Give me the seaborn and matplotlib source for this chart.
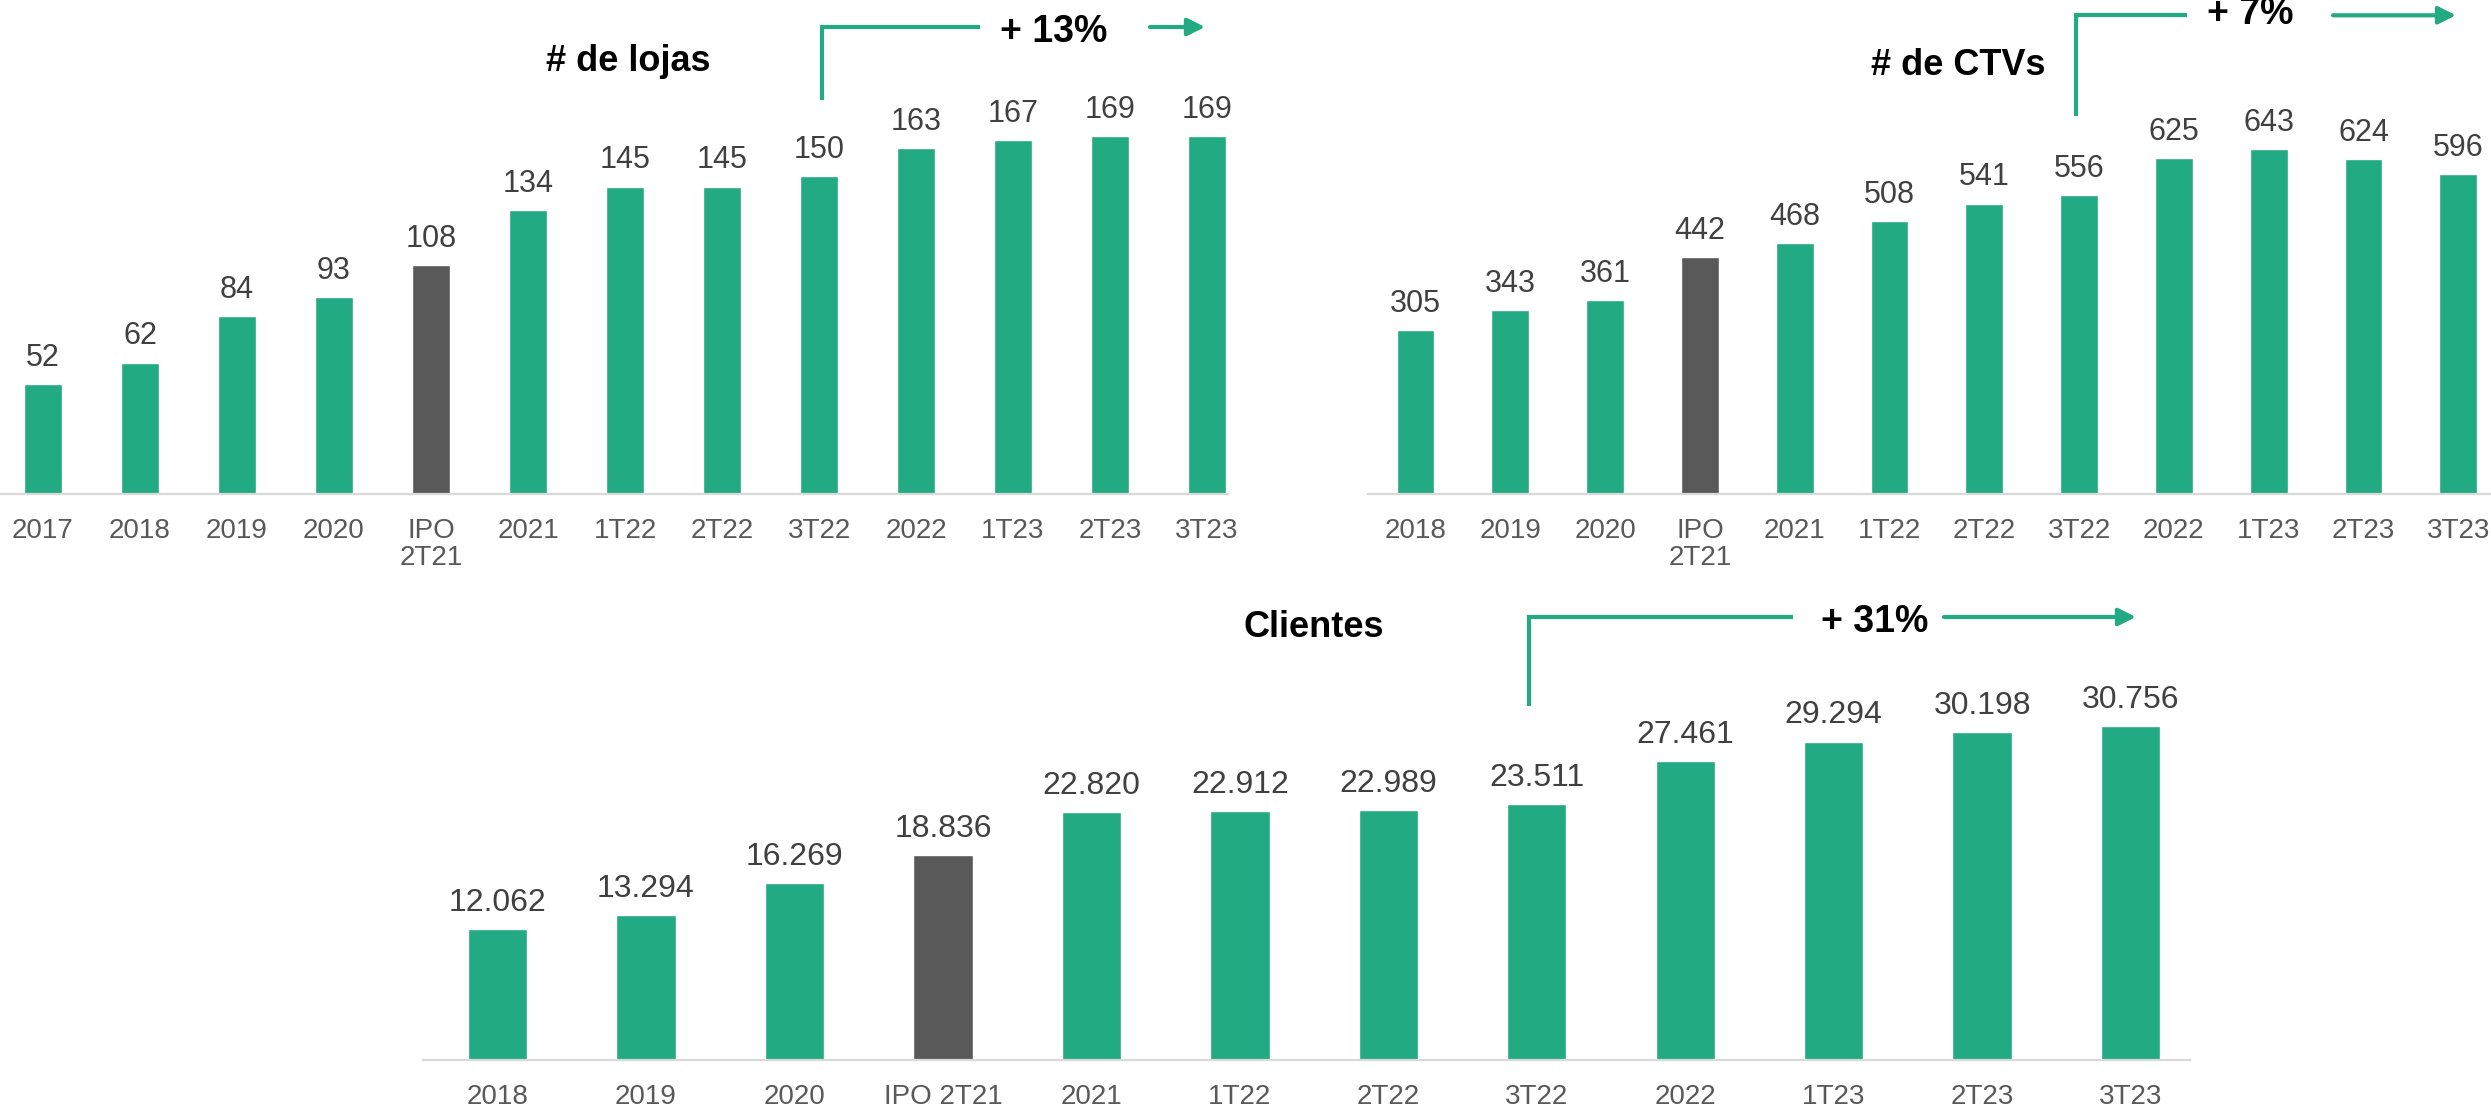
import matplotlib
matplotlib.use("Agg")
import matplotlib.pyplot as plt
import seaborn as sns
import pandas as pd

# ---------------- data ----------------
lojas_cats = ['2017', '2018', '2019', '2020', 'IPO\n2T21', '2021', '1T22', '2T22', '3T22', '2022', '1T23', '2T23', '3T23']
lojas_vals = [52, 62, 84, 93, 108, 134, 145, 145, 150, 163, 167, 169, 169]

ctv_cats = ['2018', '2019', '2020', 'IPO\n2T21', '2021', '1T22', '2T22', '3T22', '2022', '1T23', '2T23', '3T23']
ctv_vals = [305, 343, 361, 442, 468, 508, 541, 556, 625, 643, 624, 596]

cli_cats = ['2018', '2019', '2020', 'IPO 2T21', '2021', '1T22', '2T22', '3T22', '2022', '1T23', '2T23', '3T23']
cli_vals = [12062, 13294, 16269, 18836, 22820, 22912, 22989, 23511, 27461, 29294, 30198, 30756]

titles = ['# de lojas', '# de CTVs', 'Clientes']
growth = ['+ 13%', '+ 7%', '+ 31%']

GREEN = '#22AA82'
GRAY = '#595959'
AXIS = '#D9D9D9'

sns.set_style('white')
plt.rcParams['font.family'] = ['Liberation Sans', 'DejaVu Sans']

W, H = 2491, 1105
fig = plt.figure(figsize=(W / 100, H / 100), dpi=100)


def px_axes(left, right, top, bottom):
    return fig.add_axes([left / W, 1 - bottom / H, (right - left) / W, (bottom - top) / H])


def draw(ax, cats, vals, xlim, ylim, fmt, vsize):
    df = pd.DataFrame({'cat': cats, 'val': vals})
    pal = {c: (GRAY if c.startswith('IPO') else GREEN) for c in cats}
    sns.barplot(data=df, x='cat', y='val', hue='cat', palette=pal, legend=False,
                width=0.4, ax=ax, saturation=1, order=cats, hue_order=cats)
    for cont in ax.containers:
        ax.bar_label(cont, labels=[fmt(v) for v in cont.datavalues], padding=8,
                     fontsize=vsize, color='#404040')
    ax.set_xlim(*xlim)
    ax.set_ylim(*ylim)
    ax.set_xlabel('')
    ax.set_ylabel('')
    ax.set_yticks([])
    for s in ['top', 'left', 'right']:
        ax.spines[s].set_visible(False)
    ax.spines['bottom'].set_color(AXIS)
    ax.spines['bottom'].set_linewidth(1.6)
    ax.tick_params(axis='x', length=0, pad=17, labelsize=20, labelcolor='#595959')
    for lbl in ax.get_xticklabels():
        lbl.set_linespacing(1.05)
    ax.patch.set_alpha(0)


ax1 = px_axes(0, 1228, 0, 494)
draw(ax1, lojas_cats, lojas_vals, (-0.443, 12.216), (0, 233), lambda v: f"{int(v)}", 22)

ax2 = px_axes(1368, 2491, 0, 494)
draw(ax2, ctv_cats, ctv_vals, (-0.501, 11.345), (0, 920), lambda v: f"{int(v)}", 22)

ax3 = px_axes(423, 2190, 580, 1060)
draw(ax3, cli_cats, cli_vals, (-0.502, 11.40), (0, 44158),
     lambda v: f"{int(v):,}".replace(',', '.'), 23)

# ---------------- overlay for titles and growth arrows ----------------
ov = fig.add_axes([0, 0, 1, 1])
ov.set_xlim(0, W)
ov.set_ylim(H, 0)
ov.axis('off')
ov.patch.set_alpha(0)

title_pos = [(628, 71), (1958, 75), (1314, 637)]
for t, (x, y) in zip(titles, title_pos):
    ov.text(x, y, t, ha='center', va='baseline', fontsize=26, fontweight='bold', color='black')

growth_pos = [(1054, 42), (2250, 24), (1875, 632)]
for t, (x, y) in zip(growth, growth_pos):
    ov.text(x, y, t, ha='center', va='baseline', fontsize=27, fontweight='bold', color='black')

# bracket lines: (x_vert, y_top, y_bottom, x_hline_end, arrow_start, arrow_end)
brackets = [
    (822, 27, 99.5, 980, 1150, 1205),
    (2075.6, 15.3, 116, 2187, 2333, 2456),
    (1528.5, 617, 705.5, 1792.6, 1944, 2136),
]
for xv, yt, yb, xh, a0, a1 in brackets:
    ov.plot([xv, xv, xh], [yb, yt, yt], color=GREEN, lw=3, solid_joinstyle='miter',
            solid_capstyle='butt')
    ov.annotate('', xy=(a1, yt), xytext=(a0, yt),
                arrowprops=dict(arrowstyle='-|>', color=GREEN, lw=3, mutation_scale=26,
                                shrinkA=0, shrinkB=0))

fig.savefig('out.png', dpi=100)
